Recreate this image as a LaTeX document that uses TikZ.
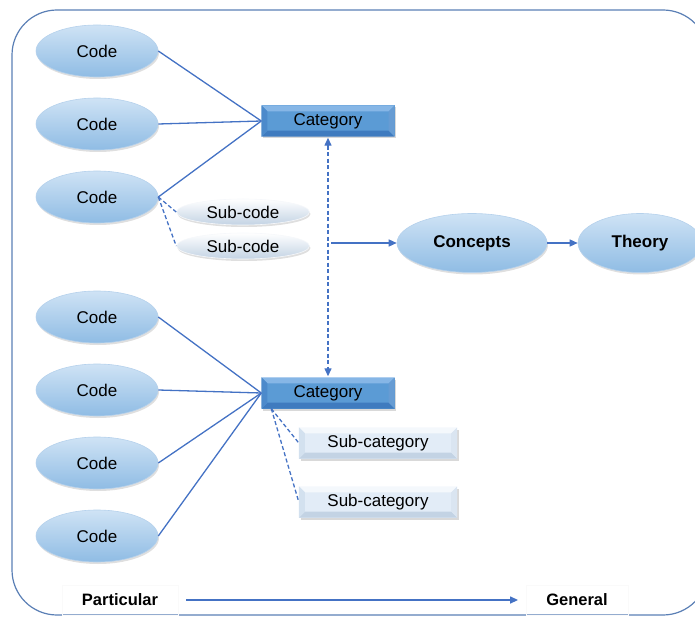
\documentclass[tikz,border=0pt]{standalone}
\usepackage{fontspec}
\setmainfont{Liberation Sans}
\usetikzlibrary{shapes.geometric,arrows.meta,shadows}
\definecolor{linkblue}{HTML}{4472C4}
\definecolor{framecol}{HTML}{5A7FB5}
\definecolor{codetop}{HTML}{CFE3F5}
\definecolor{codebot}{HTML}{8FBCE4}
\definecolor{codeedge}{HTML}{B5D1EC}
\definecolor{catfill}{HTML}{5B9BD5}
\definecolor{catlight}{HTML}{86B6E6}
\definecolor{catdark}{HTML}{3F7BBF}
\definecolor{catside}{HTML}{4C8ACB}
\definecolor{subfill}{HTML}{E2ECF7}
\definecolor{sublight}{HTML}{F4F8FC}
\definecolor{subdark}{HTML}{C3D3E4}
\definecolor{subside}{HTML}{D3E1EF}
\tikzset{
  x=1pt, y=-1pt,
  txt/.style={font=\fontsize{17}{19}\selectfont},
  codeoval/.style={ellipse, minimum width=122, minimum height=52, inner sep=0,
    top color=codetop, bottom color=codebot, draw=codeedge, line width=0.6pt,
    drop shadow={opacity=0.25, shadow xshift=1pt, shadow yshift=-2pt}, txt},
  bigoval/.style={codeoval, minimum height=59, font=\bfseries\fontsize{17}{19}\selectfont},
  suboval/.style={ellipse, minimum width=133, minimum height=26, inner sep=0,
    top color=white, bottom color=subdark, draw=white!85!subdark, line width=0.6pt,
    drop shadow={opacity=0.25, shadow xshift=1pt, shadow yshift=-2pt}, txt},
  catbox/.style={rectangle, minimum width=133, minimum height=31, inner sep=0,
    fill=catfill, drop shadow={opacity=0.3, shadow xshift=1.5pt, shadow yshift=-2pt}},
  subcatbox/.style={rectangle, minimum width=158, minimum height=31, inner sep=0,
    fill=subfill, drop shadow={opacity=0.3, shadow xshift=1.5pt, shadow yshift=-2pt}},
  labeltext/.style={font=\bfseries\fontsize{16.5}{19}\selectfont, draw=black!2,
    inner xsep=20, minimum height=30},
  link/.style={linkblue, line width=1.3pt},
  dlink/.style={linkblue, line width=1.3pt, dash pattern=on 4pt off 2.5pt},
  tip/.style={-{Triangle[length=8pt,width=7pt]}},
}
% bevelled edges of a box (shifts are in page directions, y upwards):
% #1 node, #2 inset, #3 top, #4 bottom, #5 left/right
\newcommand\bevelbox[5]{%
  \fill[#3] (#1.north west) -- (#1.north east) -- ([xshift=-#2,yshift=-#2]#1.north east)
    -- ([xshift=#2,yshift=-#2]#1.north west) -- cycle;
  \fill[#4] (#1.south west) -- (#1.south east) -- ([xshift=-#2,yshift=#2]#1.south east)
    -- ([xshift=#2,yshift=#2]#1.south west) -- cycle;
  \fill[#5] (#1.north west) -- ([xshift=#2,yshift=-#2]#1.north west)
    -- ([xshift=#2,yshift=#2]#1.south west) -- (#1.south west) -- cycle;
  \fill[#5!85!white] (#1.north east) -- ([xshift=-#2,yshift=-#2]#1.north east)
    -- ([xshift=-#2,yshift=#2]#1.south east) -- (#1.south east) -- cycle;
}
\begin{document}
\begin{tikzpicture}
\useasboundingbox (0,0) rectangle (695,617);
\begin{scope}
  \clip (0,0) rectangle (695,617);
  \draw[framecol, line width=1.2pt, rounded corners=45] (12,10) rectangle (708,615);
\end{scope}

% codes
\foreach \n/\yy in {c1/51, c2/124, c3/197, c4/317, c5/390, c6/463, c7/536}
  \node[codeoval] (\n) at (97,\yy) {Code};

% sub-codes
\node[suboval] (sc1) at (243,212) {Sub-code};
\node[suboval] (sc2) at (243,246) {Sub-code};

% categories
\node[catbox] (cat1) at (328,121) {};
\node[catbox] (cat2) at (328,393) {};
\bevelbox{cat1}{6pt}{catlight}{catdark}{catside}
\bevelbox{cat2}{6pt}{catlight}{catdark}{catside}
\node[txt] at (cat1) {Category};
\node[txt] at (cat2) {Category};

% sub-categories
\node[subcatbox] (sb1) at (378,443) {};
\node[subcatbox] (sb2) at (378,502) {};
\bevelbox{sb1}{6pt}{sublight}{subdark}{subside}
\bevelbox{sb2}{6pt}{sublight}{subdark}{subside}
\node[txt] at (sb1) {Sub-category};
\node[txt] at (sb2) {Sub-category};

% concepts and theory
\node[bigoval, minimum width=150] (con) at (472,243) {Concepts};
\node[bigoval, minimum width=124] (th) at (640,243) {Theory};

% code to category links
\foreach \n in {c1,c2,c3} \draw[link] (\n.east) -- (cat1.west);
\foreach \n in {c4,c5,c6,c7} \draw[link] (\n.east) -- (cat2.west);

% dashed links to sub-codes and sub-categories
\draw[dlink] (c3.east) -- (sc1.west);
\draw[dlink] (c3.east) -- (sc2.west);
\coordinate (cat2foot) at ([xshift=10pt]cat2.south west);
\draw[dlink] (cat2foot) -- (sb1.west);
\draw[dlink] (cat2foot) -- (sb2.west);

% two-way dashed link between the categories, with solid heads
\coordinate (uptip) at ([yshift=-1pt]cat1.south);
\coordinate (downtip) at ([yshift=1pt]cat2.north);
\draw[dlink] ([yshift=-8pt]uptip) -- ([yshift=8pt]downtip);
\draw[link, tip] ([yshift=-9pt]uptip) -- (uptip);
\draw[link, tip] ([yshift=9pt]downtip) -- (downtip);

% on to concepts and theory
\coordinate (mid) at (331,243);
\draw[link, tip] (mid) -- (con.west);
\draw[link, tip] (con.east) -- (th.west);

% particular to general axis
\node[labeltext] (part) at (120,600) {Particular};
\node[labeltext] (gen) at (577,600) {General};
\draw[link, tip] ([xshift=8pt]part.east) -- ([xshift=-8pt]gen.west);
\end{tikzpicture}
\end{document}
